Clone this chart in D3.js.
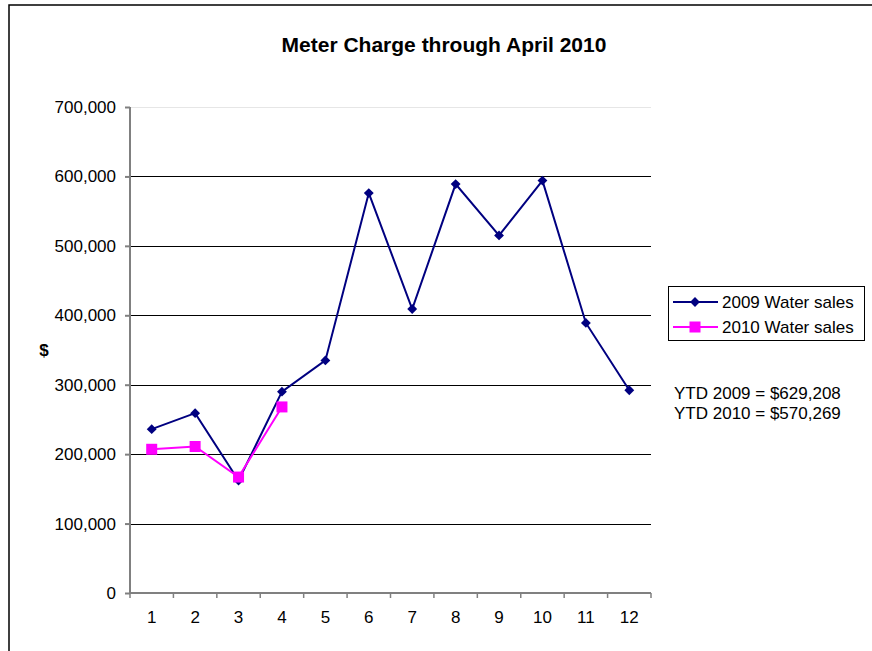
<!DOCTYPE html>
<html>
<head>
<meta charset="utf-8">
<script src="https://cdn.jsdelivr.net/npm/d3@7"></script>
<style>
  body { margin: 0; background: #fff; }
  svg { display: block; font-family: "Liberation Sans", Arial, sans-serif; }
</style>
</head>
<body>
<div id="chart"></div>
<script>
// data
var months = [1, 2, 3, 4, 5, 6, 7, 8, 9, 10, 11, 12];
var sales2009 = [236000, 259000, 162000, 290000, 335000, 576000, 409000, 589000, 515000, 594000, 389000, 292000];
var sales2010 = [207000, 211000, 167000, 268000];
var yTicks = [0, 100000, 200000, 300000, 400000, 500000, 600000, 700000];
var seriesNames = ["2009 Water sales", "2010 Water sales"];
var ytdLines = ["YTD 2009 = $629,208", "YTD 2010 = $570,269"];

var W = 872, H = 651;
var margin = { top: 107, left: 130, right: 221, bottom: 58 },
    width = W - margin.left - margin.right,
    height = H - margin.top - margin.bottom;

var svg = d3.select("#chart").append("svg")
    .attr("width", W).attr("height", H);

// outer chart border (runs off the right/bottom edge)
svg.append("rect")
    .attr("x", 9).attr("y", 5)
    .attr("width", W + 20).attr("height", H + 20)
    .attr("fill", "none").attr("stroke", "#000").attr("stroke-width", 1.5);

svg.append("text")
    .attr("x", 444).attr("y", 52)
    .attr("text-anchor", "middle")
    .style("font-size", "21px").style("font-weight", "bold")
    .text("Meter Charge through April 2010");

var g = svg.append("g")
    .attr("transform", "translate(" + margin.left + "," + margin.top + ")");

var x = d3.scaleBand().domain(months).range([0, width]);
var y = d3.scaleLinear().domain([0, 700000]).range([height, 0]);

// gridlines
g.append("g").selectAll("line")
    .data(yTicks.filter(d => d > 0))
    .enter().append("line")
    .attr("x1", 0).attr("x2", width)
    .attr("y1", d => Math.round(y(d)) + 0.5).attr("y2", d => Math.round(y(d)) + 0.5)
    .attr("stroke", d => d == 700000 ? "#e6e6e6" : "#000")
    .attr("stroke-width", 1);

// y axis
var yAxis = g.append("g")
    .call(d3.axisLeft(y).tickValues(yTicks).tickSize(5).tickPadding(9).tickFormat(d3.format(",")));
yAxis.selectAll("line, path").attr("stroke", "#808080").attr("stroke-width", 2);
yAxis.select(".domain").attr("d", "M0," + height + "V0");
yAxis.selectAll("text").style("font-size", "17px").attr("fill", "#000");

// x axis, ticks between categories
var xAxis = g.append("g").attr("transform", "translate(0," + height + ")");
xAxis.append("line")
    .attr("x1", 0).attr("x2", width)
    .attr("stroke", "#808080").attr("stroke-width", 2);
xAxis.selectAll(".tk")
    .data(months.concat([13]))
    .enter().append("line")
    .attr("x1", (d, i) => i * x.bandwidth()).attr("x2", (d, i) => i * x.bandwidth())
    .attr("y1", 0).attr("y2", 5)
    .attr("stroke", "#808080").attr("stroke-width", 1.5);
xAxis.selectAll("text")
    .data(months)
    .enter().append("text")
    .attr("x", d => x(d) + x.bandwidth() / 2)
    .attr("y", 30)
    .attr("text-anchor", "middle")
    .style("font-size", "17px")
    .text(d => d);

svg.append("text")
    .attr("x", 44).attr("y", 356)
    .attr("text-anchor", "middle")
    .style("font-size", "17px").style("font-weight", "bold")
    .text("$");

var cx = d => x(d) + x.bandwidth() / 2;
var line = d3.line().x((d, i) => cx(months[i])).y(d => y(d));

var diamond = d3.symbol().type(d3.symbolDiamond2).size(62);

g.append("path").datum(sales2009)
    .attr("d", line).attr("fill", "none")
    .attr("stroke", "#000080").attr("stroke-width", 2);
g.selectAll(".p09").data(sales2009).enter().append("path")
    .attr("d", diamond)
    .attr("transform", (d, i) => "translate(" + cx(months[i]) + "," + y(d) + ")")
    .attr("fill", "#000080");

g.append("path").datum(sales2010)
    .attr("d", line).attr("fill", "none")
    .attr("stroke", "#ff00ff").attr("stroke-width", 2);
g.selectAll(".p10").data(sales2010).enter().append("rect")
    .attr("x", (d, i) => cx(months[i]) - 5.5).attr("y", d => y(d) - 5.5)
    .attr("width", 11).attr("height", 11)
    .attr("fill", "#ff00ff");

// legend
var legend = svg.append("g").attr("transform", "translate(668,286)");
legend.append("rect")
    .attr("x", 0.5).attr("y", 0.5).attr("width", 196).attr("height", 54)
    .attr("fill", "#fff").attr("stroke", "#000").attr("stroke-width", 1);
var colors = ["#000080", "#ff00ff"];
seriesNames.forEach(function (name, i) {
    var ly = 16 + i * 25;
    legend.append("line")
        .attr("x1", 5).attr("x2", 50).attr("y1", ly).attr("y2", ly)
        .attr("stroke", colors[i]).attr("stroke-width", 2);
    if (i == 0) {
        legend.append("path").attr("d", diamond)
            .attr("transform", "translate(27," + ly + ")").attr("fill", colors[i]);
    } else {
        legend.append("rect").attr("x", 21.5).attr("y", ly - 5.5)
            .attr("width", 11).attr("height", 11).attr("fill", colors[i]);
    }
    legend.append("text")
        .attr("x", 54).attr("y", ly + 6)
        .style("font-size", "17px")
        .text(name);
});

svg.selectAll(".ytd").data(ytdLines).enter().append("text")
    .attr("x", 674).attr("y", (d, i) => 399 + i * 20)
    .style("font-size", "17px")
    .text(d => d);
</script>
</body>
</html>
